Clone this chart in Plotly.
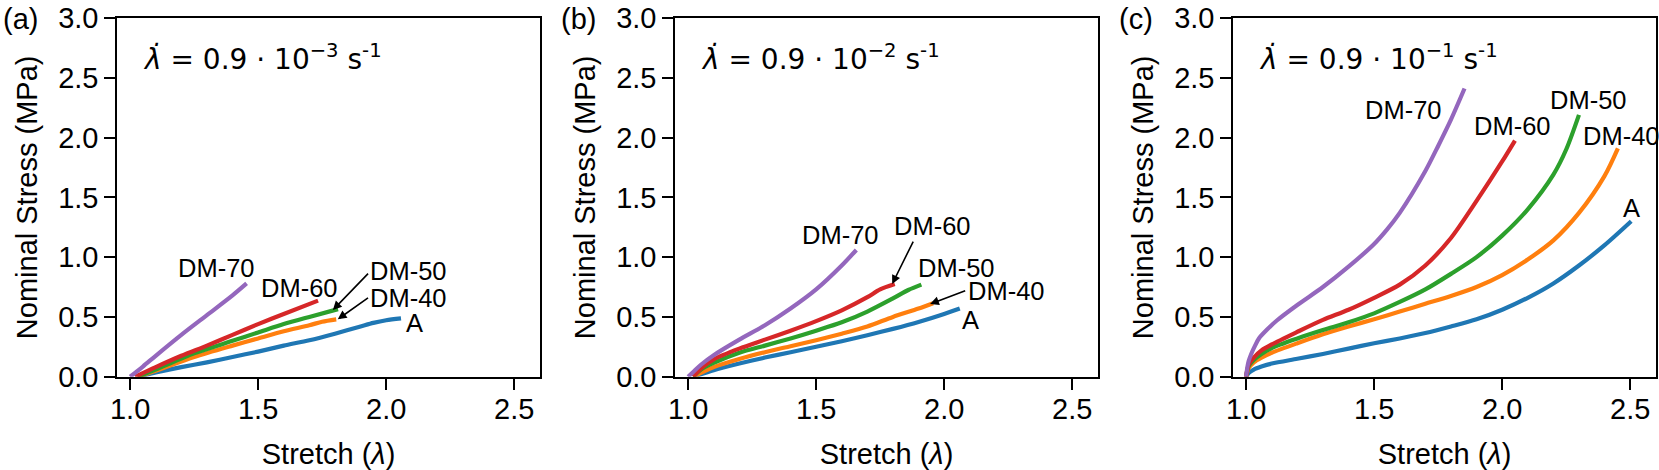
import plotly.graph_objects as go

# ---------------- data ----------------
series_names = ["A", "DM-40", "DM-50", "DM-60", "DM-70"]
colors = ["#1f77b4", "#ff7f0e", "#2ca02c", "#d62728", "#9467bd"]
rate_exponents = ["−3", "−2", "−1"]
panel_letters = ["(a)", "(b)", "(c)"]

# panel (a)  rate 0.9e-3
a_A_x = [1.03, 1.1, 1.2, 1.3, 1.4, 1.5, 1.6, 1.7, 1.8, 1.9, 1.95, 2.0, 2.058]
a_A_y = [0.0, 0.035, 0.08, 0.12, 0.165, 0.21, 0.26, 0.305, 0.36, 0.42, 0.45, 0.472, 0.488]
a_40_x = [1.03, 1.1, 1.25, 1.4, 1.5, 1.6, 1.7, 1.75, 1.805]
a_40_y = [0.0, 0.05, 0.165, 0.26, 0.32, 0.38, 0.43, 0.46, 0.48]
a_50_x = [1.03, 1.1, 1.25, 1.4, 1.5, 1.6, 1.7, 1.812]
a_50_y = [0.0, 0.06, 0.195, 0.3, 0.37, 0.44, 0.5, 0.565]
a_60_x = [1.02, 1.1, 1.2, 1.3, 1.4, 1.5, 1.6, 1.734]
a_60_y = [0.0, 0.08, 0.175, 0.26, 0.35, 0.44, 0.525, 0.636]
a_70_x = [1.0, 1.05, 1.1, 1.2, 1.3, 1.4, 1.455]
a_70_y = [0.0, 0.085, 0.175, 0.35, 0.515, 0.68, 0.78]

# panel (b)  rate 0.9e-2
b_A_x = [1.02, 1.1, 1.2, 1.3, 1.4, 1.5, 1.6, 1.7, 1.8, 1.9, 2.0, 2.061]
b_A_y = [0.0, 0.055, 0.11, 0.16, 0.205, 0.25, 0.297, 0.347, 0.4, 0.458, 0.525, 0.571]
b_40_x = [1.02, 1.1, 1.2, 1.3, 1.4, 1.5, 1.6, 1.7, 1.8, 1.9, 1.957]
b_40_y = [0.0, 0.08, 0.148, 0.205, 0.255, 0.305, 0.36, 0.42, 0.5, 0.57, 0.615]
b_50_x = [1.02, 1.05, 1.1, 1.2, 1.3, 1.4, 1.5, 1.6, 1.7, 1.8, 1.86, 1.911]
b_50_y = [0.0, 0.06, 0.115, 0.2, 0.26, 0.32, 0.385, 0.455, 0.545, 0.655, 0.725, 0.77]
b_60_x = [1.02, 1.05, 1.1, 1.2, 1.3, 1.4, 1.5, 1.6, 1.7, 1.75, 1.807]
b_60_y = [0.0, 0.07, 0.145, 0.235, 0.31, 0.385, 0.465, 0.555, 0.665, 0.73, 0.775]
b_70_x = [1.0, 1.02, 1.05, 1.1, 1.2, 1.3, 1.4, 1.5, 1.6, 1.657]
b_70_y = [0.0, 0.04, 0.1, 0.18, 0.31, 0.43, 0.57, 0.73, 0.93, 1.06]

# panel (c)  rate 0.9e-1
c_A_x = [1.0, 1.01, 1.03, 1.06, 1.1, 1.2, 1.3, 1.4, 1.5, 1.6, 1.7, 1.8, 1.9, 2.0, 2.1, 2.2, 2.3, 2.4, 2.504]
c_A_y = [0.0, 0.03, 0.06, 0.085, 0.11, 0.15, 0.19, 0.235, 0.28, 0.32, 0.365, 0.42, 0.48, 0.56, 0.66, 0.78, 0.93, 1.1, 1.3]
c_40_x = [1.0, 1.01, 1.03, 1.06, 1.1, 1.2, 1.3, 1.4, 1.5, 1.6, 1.7, 1.8, 1.9, 2.0, 2.1, 2.2, 2.3, 2.4, 2.452]
c_40_y = [0.0, 0.07, 0.12, 0.16, 0.2, 0.28, 0.355, 0.42, 0.48, 0.545, 0.61, 0.675, 0.75, 0.85, 0.98, 1.14, 1.37, 1.68, 1.91]
c_50_x = [1.0, 1.01, 1.03, 1.06, 1.1, 1.2, 1.3, 1.4, 1.5, 1.6, 1.7, 1.8, 1.9, 2.0, 2.1, 2.2, 2.25, 2.3]
c_50_y = [0.0, 0.09, 0.14, 0.19, 0.24, 0.32, 0.39, 0.455, 0.53, 0.625, 0.73, 0.86, 1.0, 1.18, 1.4, 1.69, 1.9, 2.19]
c_60_x = [1.0, 1.01, 1.03, 1.06, 1.1, 1.2, 1.3, 1.4, 1.5, 1.6, 1.7, 1.8, 1.9, 2.0, 2.05]
c_60_y = [0.0, 0.1, 0.16, 0.22, 0.27, 0.375, 0.475, 0.56, 0.66, 0.77, 0.93, 1.16, 1.47, 1.8, 1.975]
c_70_x = [1.0, 1.005, 1.01, 1.02, 1.035, 1.05, 1.08, 1.12, 1.2, 1.3, 1.4, 1.5, 1.55, 1.6, 1.7, 1.75, 1.8, 1.853]
c_70_y = [0.0, 0.08, 0.13, 0.19, 0.26, 0.32, 0.39, 0.47, 0.6, 0.75, 0.92, 1.11, 1.23, 1.37, 1.72, 1.93, 2.15, 2.41]

panels = [
    [(a_A_x, a_A_y), (a_40_x, a_40_y), (a_50_x, a_50_y), (a_60_x, a_60_y), (a_70_x, a_70_y)],
    [(b_A_x, b_A_y), (b_40_x, b_40_y), (b_50_x, b_50_y), (b_60_x, b_60_y), (b_70_x, b_70_y)],
    [(c_A_x, c_A_y), (c_40_x, c_40_y), (c_50_x, c_50_y), (c_60_x, c_60_y), (c_70_x, c_70_y)],
]

x_ticks = [1.0, 1.5, 2.0, 2.5]
y_ticks = [0.0, 0.5, 1.0, 1.5, 2.0, 2.5, 3.0]

# label placement (layout, not data): name -> (text x, text y)
label_pos = [
    {"A": (2.109, 0.446), "DM-40": (2.089, 0.655), "DM-50": (2.089, 0.885), "DM-60": (1.662, 0.746), "DM-70": (1.338, 0.913)},
    {"A": (2.101, 0.474), "DM-40": (2.244, 0.718), "DM-50": (2.049, 0.913), "DM-60": (1.956, 1.26), "DM-70": (1.596, 1.185)},
    {"A": (2.504, 1.408), "DM-40": (2.465, 2.014), "DM-50": (2.338, 2.316), "DM-60": (2.042, 2.098), "DM-70": (1.613, 2.228)},
]
# arrows: (panel, tail x, tail y, head x, head y)
arrows = [
    (0, 1.935, 0.875, 1.792, 0.558),
    (0, 1.935, 0.669, 1.811, 0.48),
    (1, 1.882, 1.143, 1.797, 0.775),
    (1, 2.088, 0.724, 1.945, 0.608),
]

# ---------------- figure ----------------
W, H = 1659, 470
left_px = [117.3, 675.3, 1233.3]
width_px = 422.5
top_px, bottom_px = 18.0, 376.7

TEXT_FONT = "Liberation Sans, Arial, sans-serif"
FS = 29
fig = go.Figure()

for p, curves in enumerate(panels):
    sfx = "" if p == 0 else str(p + 1)
    for i, (xs, ys) in enumerate(curves):
        fig.add_trace(go.Scatter(
            x=xs, y=ys, mode="lines", name=series_names[i],
            line=dict(color=colors[i], width=4.2, shape="spline", smoothing=0.8),
            xaxis="x" + sfx, yaxis="y" + sfx, showlegend=False,
        ))

layout = dict(
    width=W, height=H,
    margin=dict(l=0, r=0, t=0, b=0, autoexpand=False),
    paper_bgcolor="white", plot_bgcolor="white",
    font=dict(family=TEXT_FONT, size=FS, color="black"),
)
annotations = []
for p in range(3):
    sfx = "" if p == 0 else str(p + 1)
    x0 = left_px[p] / W
    x1 = (left_px[p] + width_px) / W
    layout["xaxis" + sfx] = dict(
        domain=[x0, x1], range=[0.95, 2.6], anchor="y" + sfx, automargin=False,
        tickvals=x_ticks, ticktext=[f"{v:.1f}" for v in x_ticks],
        ticks="outside", ticklen=11, tickwidth=2, tickcolor="black",
        showline=True, linewidth=2, linecolor="black", mirror=True,
        showgrid=False, zeroline=False, ticklabelstandoff=-6,
        tickfont=dict(size=FS),
        title=dict(text="Stretch (<i>λ</i>)", font=dict(size=FS), standoff=20),
    )
    layout["yaxis" + sfx] = dict(
        domain=[1 - bottom_px / H, 1 - top_px / H], range=[0, 3], anchor="x" + sfx, automargin=False,
        tickvals=y_ticks, ticktext=[f"{v:.1f}" for v in y_ticks],
        ticks="outside", ticklen=11, tickwidth=2, tickcolor="black",
        showline=True, linewidth=2, linecolor="black", mirror=True,
        showgrid=False, zeroline=False, ticklabelstandoff=0,
        tickfont=dict(size=FS),
        title=dict(text="Nominal Stress (MPa)", font=dict(size=FS), standoff=12),
    )
    # rate annotation
    annotations.append(dict(
        xref=f"x{sfx} domain", yref=f"y{sfx} domain", x=0.055, y=0.89,
        xanchor="left", yanchor="middle", showarrow=False,
        text=f"<i>λ̇</i> = 0.9 · 10<sup>{rate_exponents[p]}</sup> s<sup>-1</sup>",
        font=dict(family="DejaVu Sans", size=28),
    ))
    # panel letter
    annotations.append(dict(
        xref="paper", yref="paper", x=(left_px[p] - 116) / W, y=1 - 1 / H,
        xanchor="left", yanchor="top", showarrow=False,
        text=panel_letters[p], font=dict(size=FS),
    ))
    # curve labels
    for name, (tx, ty) in label_pos[p].items():
        annotations.append(dict(
            xref="x" + sfx, yref="y" + sfx, x=tx, y=ty, showarrow=False,
            xanchor="center", yanchor="middle",
            text=name, font=dict(size=25.5),
        ))

for (p, tx, ty, hx, hy) in arrows:
    sfx = "" if p == 0 else str(p + 1)
    annotations.append(dict(
        xref="x" + sfx, yref="y" + sfx, axref="x" + sfx, ayref="y" + sfx,
        x=hx, y=hy, ax=tx, ay=ty, text="", showarrow=True,
        arrowhead=2, arrowsize=1.1, arrowwidth=1.6, arrowcolor="black",
    ))

layout["annotations"] = annotations
fig.update_layout(**layout)
fig.write_html("out.html", config={"displayModeBar": False},
               post_script="document.body.style.margin='0';")
